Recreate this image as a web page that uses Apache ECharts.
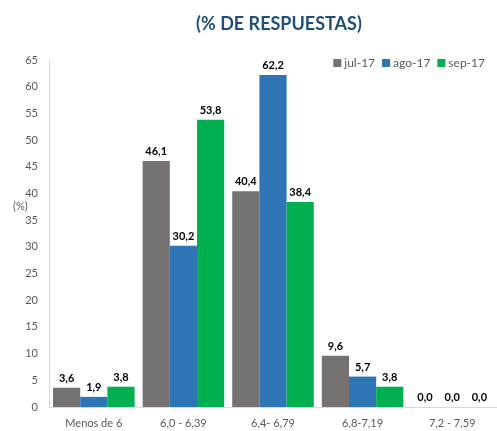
<!DOCTYPE html>
<html><head><meta charset="utf-8">
<script src="https://cdn.jsdelivr.net/npm/echarts@6/dist/echarts.min.js"></script>
<style>html,body{margin:0;padding:0;background:#fff}#c{width:497px;height:431px}</style>
</head><body><div id="c"></div>
<script>
const categories = ["Menos de 6", "6,0 - 6,39", "6,4- 6,79", "6,8-7,19", "7,2 - 7,59"];
const seriesNames = ["jul-17", "ago-17", "sep-17"];
const jul17 = [3.6, 46.1, 40.4, 9.6, 0.0];
const ago17 = [1.9, 30.2, 62.2, 5.7, 0.0];
const sep17 = [3.8, 53.8, 38.4, 3.8, 0.0];
const yAxisName = "(%)";
const colors = ["#767171", "#2E75B6", "#00B050"];
const FONT = "Lato, 'Open Sans', sans-serif";

const chart = echarts.init(document.getElementById('c'));
const mk = (name, data, color) => ({
  name, type: 'bar', data, barGap: '0%', barCategoryGap: '9%',
  itemStyle: { color },
  label: { show: true, position: 'top', distance: 4, color: '#000', fontWeight: 'bold', fontSize: 11, fontFamily: FONT,
    formatter: p => p.value.toFixed(1).replace('.', ',') }
});
chart.setOption({
  animation: false,
  title: { text: '(% DE RESPUESTAS)', left: 274, textAlign: 'center', top: 10,
    textStyle: { color: '#1F4E79', fontSize: 18, fontWeight: 'bold', fontFamily: FONT } },
  legend: { data: seriesNames, top: 52, right: 7, itemWidth: 8, itemHeight: 8, itemGap: 7, icon: 'rect',
    textStyle: { color: '#595959', fontSize: 12, fontFamily: FONT, padding: [0,0,0,-2] } },
  graphic: [{ type: 'text', left: 13, top: 201,
    style: { text: yAxisName, fill: '#595959', font: '11px ' + FONT } }],
  grid: { left: 49, top: 60, width: 455, height: 347 },
  xAxis: { type: 'category', data: categories,
    axisLine: { lineStyle: { color: '#D9D9D9' } }, axisTick: { show: false },
    axisLabel: { color: '#595959', fontSize: 11, fontFamily: FONT, margin: 11 } },
  yAxis: { type: 'value', min: 0, max: 65, interval: 5,
    axisLine: { show: true, lineStyle: { color: '#D9D9D9' } }, axisTick: { show: false }, splitLine: { show: false },
    axisLabel: { color: '#595959', fontSize: 11, fontFamily: FONT, margin: 11 } },
  series: [mk(seriesNames[0], jul17, colors[0]), mk(seriesNames[1], ago17, colors[1]), mk(seriesNames[2], sep17, colors[2])]
});
</script></body></html>
